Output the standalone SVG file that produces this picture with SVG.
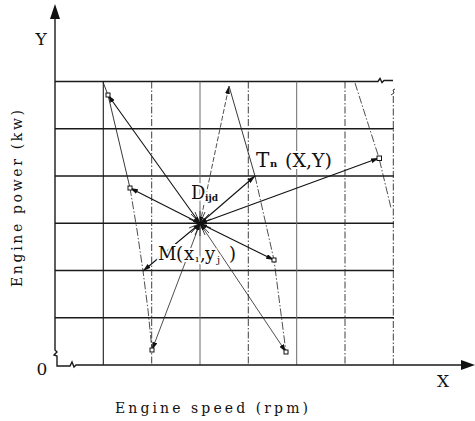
<svg xmlns="http://www.w3.org/2000/svg" width="475" height="421" viewBox="0 0 475 421">
<style>
.h{stroke:#1a1a1a;stroke-width:1.4;fill:none}
.vs{stroke:#1a1a1a;stroke-width:1.1;fill:none}
.vl{stroke:#6a6a6a;stroke-width:1;fill:none}
.vd{stroke:#2a2a2a;stroke-width:0.9;fill:none;stroke-dasharray:7 2 1.5 2}
.cv{stroke:#222;stroke-width:0.8;fill:none;stroke-dasharray:8 2 1.5 2}
.cs{stroke:#222;stroke-width:0.9;fill:none}
.ln{stroke:#111;stroke-width:1.1;fill:none;marker-end:url(#ar);marker-start:url(#as)}
.lt{stroke:#222;stroke-width:0.8;fill:none;marker-end:url(#ar);marker-start:url(#as)}
.sq{fill:#fff;stroke:#111;stroke-width:1}
.ray{stroke:#111;stroke-width:0.8}
.t{font-family:"DejaVu Serif","Liberation Serif",serif;fill:#111}
.lb{paint-order:stroke;stroke:#fff;stroke-width:4;stroke-linejoin:round}
</style>
<defs>
<marker id="ar" markerUnits="userSpaceOnUse" markerWidth="8" markerHeight="5" refX="8" refY="2.5" orient="auto-start-reverse">
<path d="M0,0 L8,2.5 L0,5 z" fill="#111"/>
</marker>
<marker id="as" markerUnits="userSpaceOnUse" markerWidth="7" markerHeight="4" refX="7" refY="2" orient="auto-start-reverse">
<path d="M0,0 L7,2 L0,4 z" fill="#111"/>
</marker>
</defs>

<g id="grid">
<path class="h" d="M55,81.5 H378 l2,-3 l2,4 l2,-2 H393"/>
<path class="h" d="M55,128.75 H394"/>
<path class="h" d="M55,176 H394"/>
<path class="h" d="M55,223.25 H394"/>
<path class="h" d="M55,270.5 H394"/>
<path class="h" d="M55,317.75 H394"/>
<path class="vs" d="M103.3,81.5 V365"/>
<path class="vd" d="M151.7,81.5 V365"/>
<path class="vl" d="M200,81.5 V365"/>
<path class="vd" d="M248.3,81.5 V365"/>
<path class="vl" d="M296.7,81.5 V365"/>
<path class="vd" d="M345,81.5 V365"/>
<path class="vd" d="M393.3,96 V365"/>
<path class="cs" d="M391,95 l3,-2 l-1,-3 l2,-1"/>
</g>

<g id="axes">
<path class="h" d="M55,16 V350 l2,2 l-3,3 l3,1 V366 H70 l2,-4 l2,5 l2,-2 H463"/>
<polygon points="55,4 50,19 60,19" fill="#111"/>
<polygon points="475,365 461,360 461,370" fill="#111"/>
</g>

<g id="curves">
<path class="cs" d="M103,82 L108,95 L130,188"/>
<path class="cv" d="M130,188 L137,230 L143,271 L148,310 L152,350"/>
<path class="cs" d="M229,86 L255,176"/>
<path class="cv" d="M255,176 L274,260 L286,352"/>
<path class="cv" d="M355,83 L379,158 L391,208"/>
</g>

<g id="connectors">
<line class="ln" x1="200" y1="223.5" x2="108" y2="95"/>
<line class="ln" x1="200" y1="223.5" x2="130" y2="188"/>
<line class="ln" x1="200" y1="223.5" x2="143" y2="271"/>
<line class="lt" x1="200" y1="223.5" x2="152" y2="350"/>
<line class="lt" x1="200" y1="223.5" x2="286" y2="352"/>
<line class="ln" x1="200" y1="223.5" x2="274" y2="260"/>
<line class="ln" x1="200" y1="223.5" x2="255" y2="176"/>
<line class="ln" x1="200" y1="223.5" x2="379" y2="158"/>
<line class="lt" x1="200" y1="223.5" x2="229" y2="86" stroke-dasharray="5 2"/>
</g>

<g id="center-star">
<path class="ray" d="M200,211 V236 M188,223.5 H212 M191,214 L209,233 M209,214 L191,233 M195,212 L205,235 M205,212 L195,235 M189,219 L211,228 M189,228 L211,219"/>
</g>

<g id="points">
<rect class="sq" x="106" y="93" width="4" height="4"/>
<rect class="sq" x="128" y="186" width="4" height="4"/>
<rect class="sq" x="150" y="348" width="4" height="4"/>
<rect class="sq" x="284" y="350" width="4" height="4"/>
<rect class="sq" x="272" y="258" width="4" height="4"/>
<rect class="sq" x="377" y="156" width="4.5" height="4.5"/>
</g>

<g id="labels">
<text class="t" x="41" y="45" font-size="17" text-anchor="middle">Y</text>
<text class="t" x="443" y="387" font-size="17" text-anchor="middle">X</text>
<text class="t" x="42" y="375" font-size="17" text-anchor="middle">0</text>
<text class="t" x="115" y="413" font-size="14" textLength="193" lengthAdjust="spacing">Engine speed (rpm)</text>
<text class="t" transform="translate(22,287) rotate(-90)" x="0" y="0" font-size="14" textLength="177" lengthAdjust="spacing">Engine power (kw)</text>
<text id="label-d" class="t lb" x="191" y="199" font-size="18">D<tspan x="205" y="201" font-size="9" font-weight="bold">ijd</tspan></text>
<text id="label-tn" class="t lb" x="256" y="167" font-size="20">T<tspan x="270" font-size="10" font-weight="bold">n</tspan><tspan x="285" font-size="19">(X,Y)</tspan></text>
<text id="label-m" class="t lb" x="158" y="260" font-size="18">M<tspan x="176">(</tspan><tspan x="184">x</tspan><tspan x="195.5" y="262" font-size="10">ı</tspan><tspan x="200" y="260">,</tspan><tspan x="205">y</tspan><tspan x="217" y="263" font-size="10">j</tspan><tspan x="229" y="260">)</tspan></text>
</g>
</svg>
